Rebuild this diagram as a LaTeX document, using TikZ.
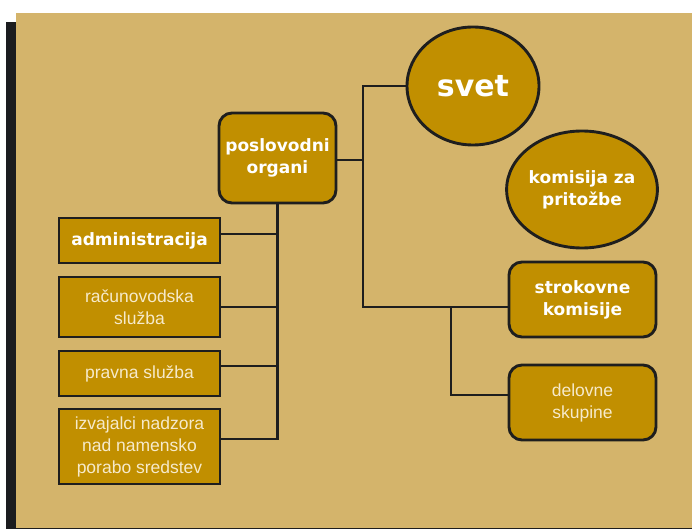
\documentclass[tikz,border=0pt]{standalone}
\usepackage{fontspec}
\setmainfont{Liberation Sans}
\newfontfamily\dvs{DejaVu Sans}
\usetikzlibrary{shapes.geometric}
\definecolor{bgtan}{HTML}{D4B46B}
\definecolor{goldf}{HTML}{C18F00}
\definecolor{linec}{HTML}{1E1E1E}
\definecolor{barc}{HTML}{1B1C1F}
\definecolor{creamt}{HTML}{F6EACB}
\begin{document}
\begin{tikzpicture}[x=1pt,y=-1pt,
  conn/.style={draw=linec, line width=2.7pt},
  gbox/.style={draw=linec, line width=2.9pt, fill=goldf, inner sep=0pt, align=center},
  rbox/.style={gbox, rounded corners=13pt},
  oval/.style={ellipse, draw=linec, line width=2.9pt, fill=goldf, inner sep=0pt, align=center},
  boldtext/.style={font=\dvs\bfseries\fontsize{17}{22}\selectfont, text=white},
  regtext/.style={font=\fontsize{17.5}{22}\selectfont, text=creamt}]
\useasboundingbox (0,0) rectangle (692,529);
\fill[white] (0,0) rectangle (692,529);
\fill[barc] (6,22) rectangle (16,529);
\fill[bgtan] (16,13) rectangle (692,529);
\draw[linec, line width=1.5pt] (16,528.25) -- (692,528.25);

\node[rbox, boldtext, minimum width=117pt, minimum height=90pt] (pos) at (277.5,158) {poslovodni\\organi};
\node[gbox, boldtext, minimum width=161pt, minimum height=45pt] (adm) at (139.5,240.5) {administracija};
\node[gbox, regtext, minimum width=161pt, minimum height=60pt] (rac) at (139.5,307) {računovodska\\služba};
\node[gbox, regtext, minimum width=161pt, minimum height=45pt] (pra) at (139.5,373.5) {pravna služba};
\node[gbox, regtext, minimum width=161pt, minimum height=75pt] (izv) at (139.5,446.5) {izvajalci nadzora\\nad namensko\\porabo sredstev};
\node[oval, boldtext, font=\dvs\bfseries\fontsize{30}{34}\selectfont, minimum width=132pt, minimum height=118pt] (svet) at (473,86) {svet};
\node[oval, boldtext, minimum width=132pt, minimum height=117pt] (kom) at (582,189.5) {komisija za\\pritožbe};
\node[rbox, boldtext, minimum width=147pt, minimum height=75pt] (strok) at (582.5,299.5) {strokovne\\komisije};
\node[rbox, regtext, minimum width=147pt, minimum height=75pt] (del) at (582.5,402.5) {delovne\\skupine};

% left tree
\draw[conn] (pos.south) |- ([yshift=7.5pt]izv.east);
\draw[conn] ([yshift=6.5pt]adm.east) -- ([yshift=6.5pt]adm.east -| pos.south);
\draw[conn] (rac.east) -- (rac.east -| pos.south);
\draw[conn] ([yshift=7.5pt]pra.east) -- ([yshift=7.5pt]pra.east -| pos.south);

% right tree
\coordinate (RT) at (363,307);
\coordinate (BR) at (451,307);
\draw[conn] (svet.west) -| (RT) -- ([yshift=-7.5pt]strok.west);
\draw[conn] ([yshift=-2pt]pos.east) -- ([yshift=-2pt]pos.east -| RT);
\draw[conn] (BR) |- ([yshift=7.5pt]del.west);
\end{tikzpicture}
\end{document}
